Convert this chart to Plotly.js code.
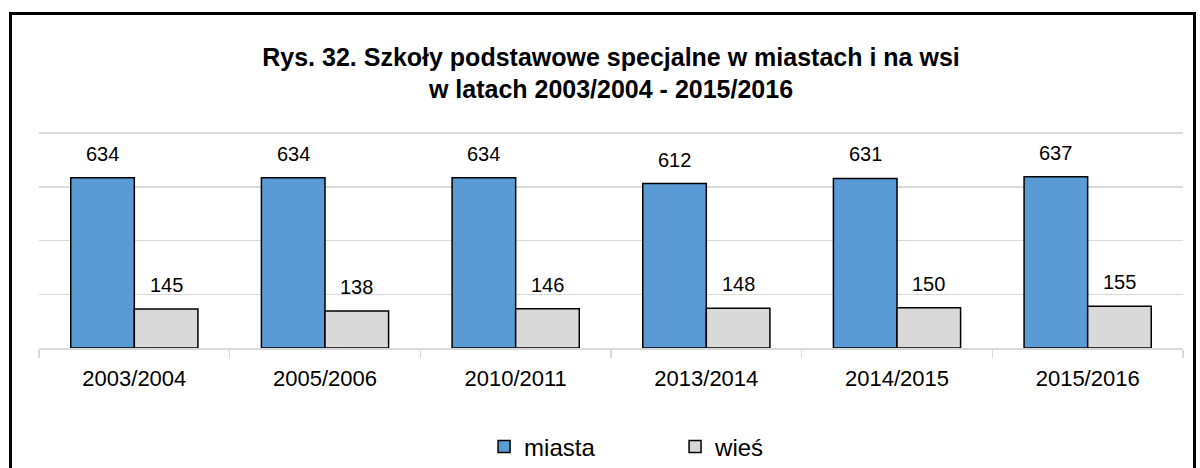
<!DOCTYPE html>
<html>
<head>
<meta charset="utf-8">
<script src="https://cdn.plot.ly/plotly-3.0.1.min.js"></script>
<style>
  html, body { margin: 0; padding: 0; background: #fff; }
  #wrap { position: relative; width: 1200px; height: 468px; overflow: hidden; }
  #chart { width: 1200px; height: 468px; }
  #frame { position: absolute; left: 9px; top: 12px; width: 1187px; height: 500px;
           border: 3px solid #000; pointer-events: none; box-sizing: border-box; }
</style>
</head>
<body>
<div id="wrap">
  <div id="chart"></div>
  <div id="frame"></div>
</div>
<script>
const categories = ["2003/2004", "2005/2006", "2010/2011", "2013/2014", "2014/2015", "2015/2016"];
const miasta = [634, 634, 634, 612, 631, 637];
const wies = [145, 138, 146, 148, 150, 155];
const seriesNames = ["miasta", "wieś"];

const FONT = '"Liberation Sans Narrow", "Arial Narrow", "Liberation Sans", Arial, sans-serif';
const plotLeft = 39, plotRight = 1183;
const catWidth = (plotRight - plotLeft) / categories.length;
const bargap = 0.333;
const barW = catWidth * (1 - bargap) / 2;

const traces = [
  { type: 'bar', name: seriesNames[0], x: categories, y: miasta,
    marker: { color: '#5b9bd5', line: { color: '#000', width: 1.5 } }, hoverinfo: 'none' },
  { type: 'bar', name: seriesNames[1], x: categories, y: wies,
    marker: { color: '#d9d9d9', line: { color: '#000', width: 1.5 } }, hoverinfo: 'none' }
];

const annotations = [];
[miasta, wies].forEach((vals, si) => {
  vals.forEach((v, i) => {
    annotations.push({
      x: categories[i], y: v, xref: 'x', yref: 'y',
      text: String(v), showarrow: false, yanchor: 'bottom',
      xshift: (si === 0 ? -1 : 1) * barW / 2, yshift: 11,
      font: { family: FONT, size: 20, color: '#000' }
    });
  });
});

const layout = {
  width: 1200, height: 468,
  paper_bgcolor: '#fff', plot_bgcolor: '#fff',
  margin: { l: plotLeft, r: 1200 - plotRight, t: 132, b: 120, autoexpand: false },
  title: {
    text: '<b>Rys. 32. Szkoły podstawowe specjalne w miastach i na wsi<br>w latach 2003/2004 - 2015/2016</b>',
    font: { family: FONT, size: 25, color: '#000' },
    x: 0.5, xref: 'paper', xanchor: 'center',
    y: 0.859, yref: 'container', yanchor: 'middle'
  },
  barmode: 'group', bargap: bargap, bargroupgap: 0,
  xaxis: {
    type: 'category', showline: true, linecolor: '#d9d9d9', linewidth: 1.5,
    ticks: 'outside', tickson: 'boundaries', ticklen: 8, tickcolor: '#d9d9d9', tickwidth: 1.5,
    tickfont: { family: FONT, size: 22, color: '#000' }, showgrid: false,
    ticklabelstandoff: 10
  },
  yaxis: {
    range: [0, 804], dtick: 200, showticklabels: false, showgrid: true,
    gridcolor: '#d9d9d9', gridwidth: 1.5, zeroline: false, showline: false, ticks: ''
  },
  showlegend: true,
  legend: {
    orientation: 'h', x: 0.556, xanchor: 'center', y: 0.045, yref: 'container', yanchor: 'middle',
    font: { family: FONT, size: 24, color: '#000' },
    entrywidth: 146, itemwidth: 30, traceorder: 'normal'
  },
  annotations: annotations
};

Plotly.newPlot('chart', traces, layout, { displayModeBar: false, staticPlot: true });
</script>
</body>
</html>
